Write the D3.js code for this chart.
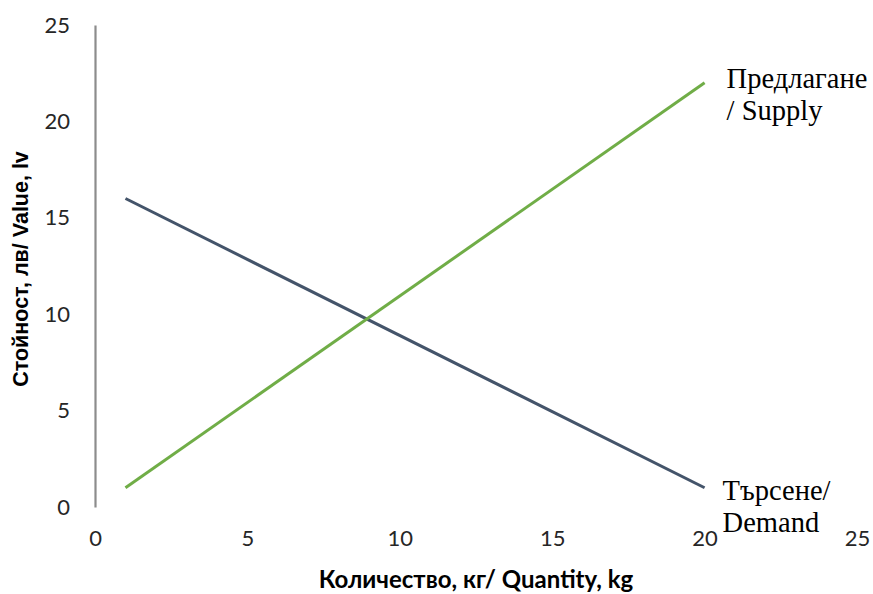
<!DOCTYPE html>
<html>
<head>
<meta charset="utf-8">
<script src="https://cdn.jsdelivr.net/npm/d3@7"></script>
<style>
  html, body { margin: 0; padding: 0; background: #fff; }
  svg { display: block; }
</style>
</head>
<body>
<div id="chart"></div>
<script>
// values
const xTicks = [0, 5, 10, 15, 20, 25];
const yTicks = [0, 5, 10, 15, 20, 25];

const supplyQty = [1, 20];
const supplyVal = [1, 22];
const demandQty = [1, 20];
const demandVal = [16, 1];

const supplyLabel = ['Предлагане', '/ Supply'];
const demandLabel = ['Търсене/', 'Demand'];
const xTitle = 'Количество, кг/ Quantity, kg';
const yTitle = 'Стойност, лв/ Value, lv';

const W = 873, H = 594;
const margin = {top: 25, right: 16, bottom: 87, left: 95};

const colors = {
    supply: '#70ad47',
    demand: '#44546a',
    axis: '#8c8c8c',
    text: '#262626'
};

let svg = d3.select('#chart').append('svg')
    .attr('width', W)
    .attr('height', H);

const x = d3.scaleLinear().domain([0, 25]).range([margin.left, W - margin.right]);
const y = d3.scaleLinear().domain([0, 25]).range([H - margin.bottom, margin.top]);

//y axis line only, no ticks
let yAxis = svg.append('g')
    .attr('transform', `translate(${x(0)},0)`)
    .call(d3.axisLeft(y).tickValues(yTicks).tickSize(0).tickPadding(25).tickFormat(d3.format('d')));
yAxis.select('.domain').attr('stroke', colors.axis).attr('stroke-width', 2.2);
yAxis.selectAll('text')
    .attr('font-family', 'Lato, "Open Sans", sans-serif')
    .attr('font-size', 22)
    .attr('fill', colors.text);

//x axis: labels only
let xAxis = svg.append('g')
    .attr('transform', `translate(0,${y(0)})`)
    .call(d3.axisBottom(x).tickValues(xTicks).tickSize(0).tickPadding(23).tickFormat(d3.format('d')));
xAxis.select('.domain').remove();
xAxis.selectAll('text')
    .attr('font-family', 'Lato, "Open Sans", sans-serif')
    .attr('font-size', 22)
    .attr('fill', colors.text);

const line = d3.line().x(d => x(d[0])).y(d => y(d[1]));

svg.append('path')
    .datum(demandQty.map((q, i) => [q, demandVal[i]]))
    .attr('d', line)
    .attr('fill', 'none')
    .attr('stroke', colors.demand)
    .attr('stroke-width', 3);

svg.append('path')
    .datum(supplyQty.map((q, i) => [q, supplyVal[i]]))
    .attr('d', line)
    .attr('fill', 'none')
    .attr('stroke', colors.supply)
    .attr('stroke-width', 3);

//end labels
function endLabel(lines, qx, vy, dx, dy) {
    let t = svg.append('text')
        .attr('font-family', '"Liberation Serif", "Times New Roman", serif')
        .attr('font-size', 28.5)
        .attr('fill', '#000');
    lines.forEach((s, i) => {
        t.append('tspan')
            .attr('x', x(qx) + dx)
            .attr('y', y(vy) + dy + i * 32.5)
            .text(s);
    });
}
endLabel(supplyLabel, supplyQty[1], supplyVal[1], 22, 5);
endLabel(demandLabel, demandQty[1], demandVal[1], 18, 12);

//axis titles
svg.append('text')
    .attr('x', (x(0) + x(25)) / 2)
    .attr('y', 588)
    .attr('text-anchor', 'middle')
    .attr('font-family', 'Lato, "Open Sans", sans-serif')
    .attr('font-weight', 'bold')
    .attr('font-size', 24)
    .attr('fill', '#000')
    .text(xTitle);

svg.append('text')
    .attr('transform', `translate(28,${(y(0) + y(25)) / 2 + 3}) rotate(-90)`)
    .attr('text-anchor', 'middle')
    .attr('font-family', '"Liberation Sans", Arial, sans-serif')
    .attr('font-weight', 'bold')
    .attr('font-size', 21.5)
    .attr('fill', '#000')
    .text(yTitle);
</script>
</body>
</html>
